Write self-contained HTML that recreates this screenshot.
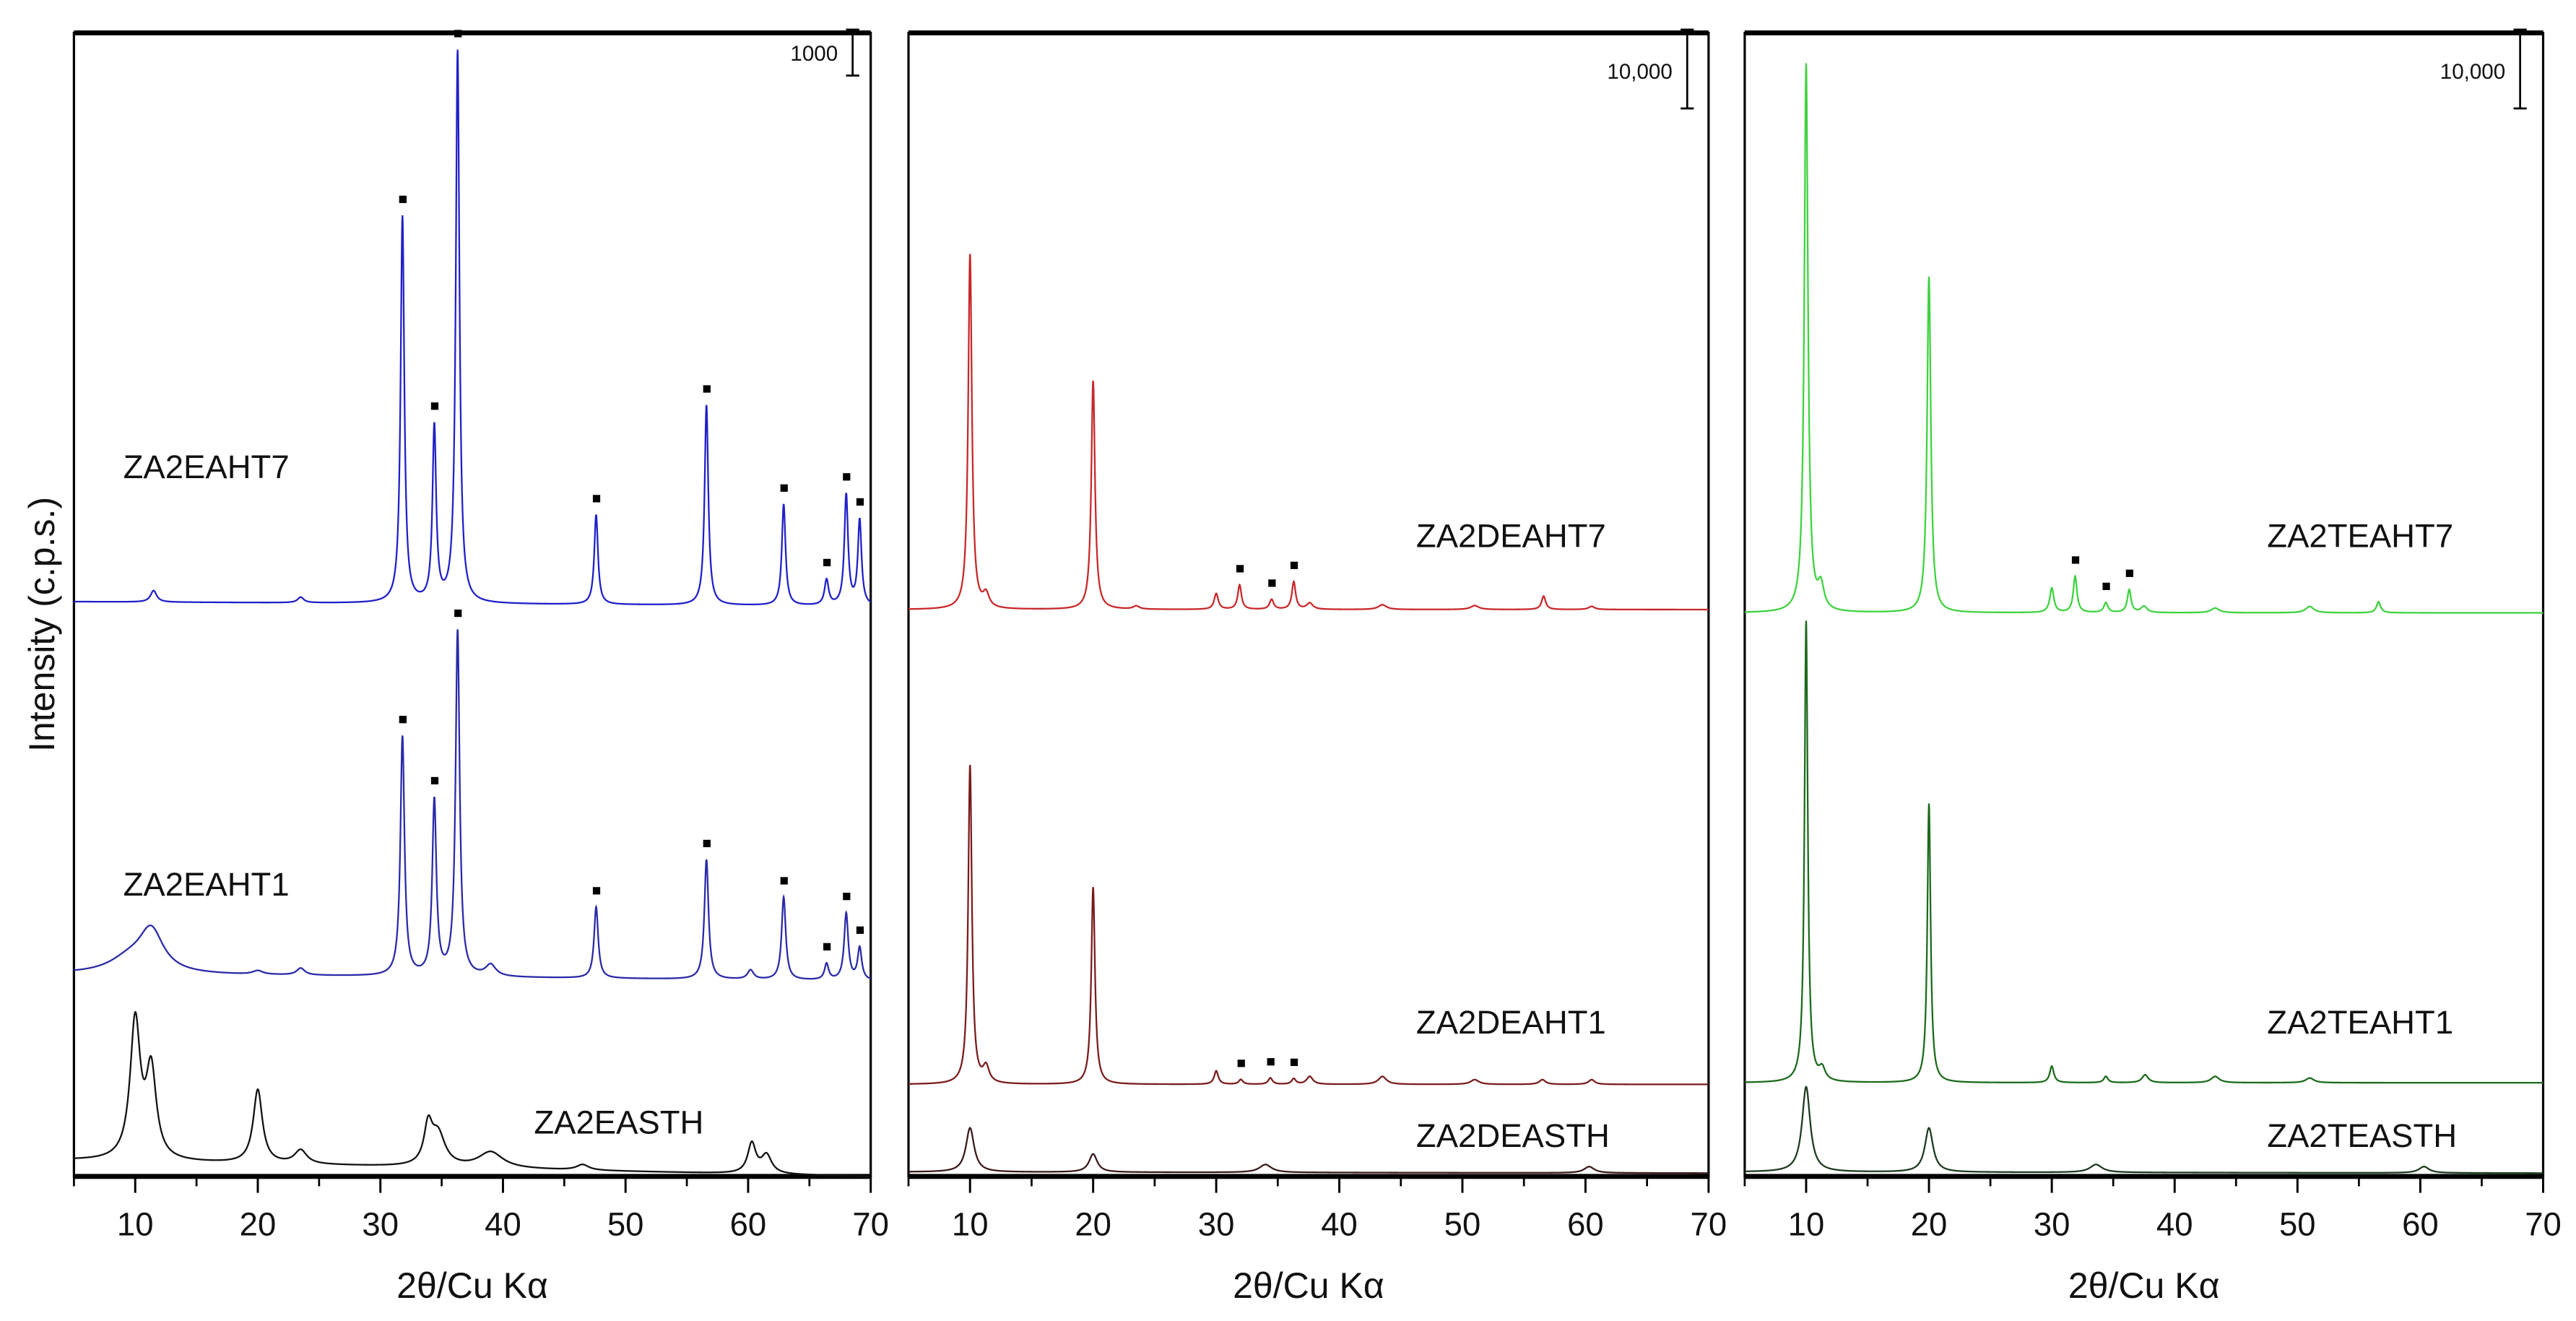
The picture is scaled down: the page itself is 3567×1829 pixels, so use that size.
<!DOCTYPE html>
<html><head><meta charset="utf-8">
<style>
html,body{margin:0;padding:0;background:#fff;}
svg{display:block;}
text{font-family:"Liberation Sans",Arial,sans-serif;fill:#111;}
</style></head>
<body>
<svg id="chart" width="3567" height="1829" viewBox="0 0 1568 804" preserveAspectRatio="none" xmlns="http://www.w3.org/2000/svg">
<text transform="translate(33,380) rotate(-90)" text-anchor="middle" font-size="22">Intensity (c.p.s.)</text>
</svg>
<script>
// ---- data (2θ, counts, half-width) ----
const xTicks = [10,20,30,40,50,60,70];
const xMinorTicks = [5,15,25,35,45,55,65];
const p1Labels = ["ZA2EAHT7","ZA2EAHT1","ZA2EASTH"];
const p2Labels = ["ZA2DEAHT7","ZA2DEAHT1","ZA2DEASTH"];
const p3Labels = ["ZA2TEAHT7","ZA2TEAHT1","ZA2TEASTH"];
const scaleBarText = ["1000","10,000","10,000"];
const scaleBarCounts = [1000,10000,10000];

const easthPeaks = [[10,3000,0.5],[11.3,1900,0.5],[20,1600,0.45],[23.5,300,0.6],[33.9,800,0.4],[34.7,700,0.7],[39,350,1.2],[46.5,120,0.6],[60.3,650,0.4],[61.5,400,0.5]];
const easthBg = [350,0];
const eaht1Peaks = [[11.3,900,1.2],[9.5,300,2],[23.5,150,0.4],[20,80,0.5],[31.8,5200,0.2],[34.4,3800,0.2],[36.3,7500,0.2],[39,250,0.5],[47.6,1550,0.2],[56.6,2600,0.2],[60.2,200,0.3],[62.9,1800,0.2],[66.4,350,0.2],[68,1450,0.2],[69.1,700,0.2]];
const eaht1Bg = [150,0];
const eaht7Peaks = [[11.5,250,0.3],[23.5,120,0.3],[31.8,8400,0.18],[34.4,3800,0.18],[36.3,12000,0.18],[47.6,1950,0.18],[56.6,4350,0.18],[62.9,2200,0.18],[66.4,550,0.2],[68,2400,0.18],[69.1,1850,0.18]];
const eaht7Bg = [100,0];
const eaht1Marks = [31.8,34.4,36.3,47.6,56.6,62.9,66.4,68,69.1];
const eaht7Marks = [31.8,34.4,36.3,47.6,56.6,62.9,66.4,68,69.1];

const deasthPeaks = [[10,5600,0.4],[20,2300,0.4],[34,1000,0.6],[60.3,800,0.5]];
const deaht1Peaks = [[10,40400,0.18],[11.3,2000,0.3],[20,25000,0.18],[30,1700,0.2],[32,600,0.2],[34.4,800,0.2],[36.3,700,0.2],[37.6,1000,0.3],[43.5,1000,0.4],[51,600,0.4],[56.5,600,0.3],[60.5,600,0.3]];
const deaht7Peaks = [[10,45000,0.18],[11.3,1700,0.3],[20,29000,0.18],[23.5,400,0.3],[30,2000,0.2],[31.9,3100,0.18],[34.5,1250,0.2],[36.3,3500,0.18],[37.6,800,0.3],[43.5,600,0.4],[51,500,0.4],[56.6,1700,0.2],[60.5,400,0.3]];
const deaht1Marks = [32,34.4,36.3];
const deaht7Marks = [31.9,34.5,36.3];

const teasthPeaks = [[10,10800,0.4],[20,5600,0.4],[33.6,1000,0.6],[60.3,800,0.5]];
const teaht1Peaks = [[10,58500,0.16],[11.3,1500,0.3],[20,35400,0.16],[30,2100,0.2],[34.4,800,0.2],[37.6,1000,0.3],[43.3,800,0.4],[51,600,0.4]];
const teaht7Peaks = [[10,69500,0.18],[11.2,3000,0.3],[20,42600,0.18],[30,3100,0.2],[31.9,4600,0.18],[34.4,1250,0.2],[36.3,2900,0.18],[37.5,800,0.3],[43.3,600,0.4],[51,800,0.4],[56.6,1400,0.2]];
const teaht7Marks = [31.9,34.4,36.3];

// ---- layout ----
const NS = "http://www.w3.org/2000/svg";
const svg = document.getElementById('chart');
const topY = 20, bottomY = 716;
const panels = [
  {x0:45,x1:530,k:1000/28,bar:{x:519,y0:18,tx:510,ty:37}},
  {x0:553,x1:1040,k:10000/48,bar:{x:1027,y0:18,tx:1018,ty:48}},
  {x0:1062,x1:1548,k:10000/48,bar:{x:1534,y0:18,tx:1525,ty:48}}
];
function mk(tag, attrs, parent){
  const e=document.createElementNS(NS,tag);
  for(const a in attrs) e.setAttribute(a,attrs[a]);
  (parent||svg).appendChild(e); return e;
}
function xs(p,v){return p.x0+(v-5)/(70-5)*(p.x1-p.x0);}
function intensity(peaks,bg,x){
  let s=bg?bg[0]+(bg[1]-bg[0])*(x-5)/65:0;
  for(const [c,h,w] of peaks){const d=(x-c)/w; s+=h/(1+d*d);}
  return s;
}
function ys(p,base,c){return base-c/p.k;}

panels.forEach((p,i)=>{
  const r=mk('rect',{x:p.x0,y:topY,width:p.x1-p.x0,height:bottomY-topY,fill:'none',stroke:'#000','stroke-width':1.4});
  
  
  const tl=mk('line',{x1:p.x0,x2:p.x1,y1:topY,y2:topY,stroke:'#000','stroke-width':3});
  
  
  const ax=mk('line',{x1:p.x0,x2:p.x1,y1:bottomY,y2:bottomY,stroke:'#000','stroke-width':3});
  
  
  xTicks.forEach(t=>{
    const X=xs(p,t);
    const l=mk('line',{x1:X,x2:X,y1:bottomY,y2:bottomY+10,stroke:'#000','stroke-width':1.3});
    
    
    const tx=mk('text',{x:X,y:752,'text-anchor':'middle','font-size':20});
    
    
    tx.textContent=t;
  });
  xMinorTicks.forEach(t=>{
    const X=xs(p,t);
    const l=mk('line',{x1:X,x2:X,y1:bottomY,y2:bottomY+6,stroke:'#000','stroke-width':1.2});
    
    
  });
  const xt=mk('text',{x:(p.x0+p.x1)/2,y:790,'text-anchor':'middle','font-size':22});
  
  
  xt.textContent='2θ/Cu Kα';
  const b=p.bar, len=scaleBarCounts[i]/p.k;
  const g=mk('g',{stroke:'#000','stroke-width':1.2});
  
  
  mk('line',{x1:b.x,x2:b.x,y1:b.y0,y2:b.y0+len},g);
  mk('line',{x1:b.x-4,x2:b.x+4,y1:b.y0,y2:b.y0},g);
  mk('line',{x1:b.x-4,x2:b.x+4,y1:b.y0+len,y2:b.y0+len},g);
  const st=mk('text',{x:b.tx,y:b.ty,'text-anchor':'end','font-size':13});
  
  
  st.textContent=scaleBarText[i];
});

const traces=[
  {p:0,peaks:easthPeaks,bg:easthBg,base:716,color:'#111',name:'trace-za2easth'},
  {p:0,peaks:eaht1Peaks,bg:eaht1Bg,base:597,color:'#2a2aa8',name:'trace-za2eaht1',marks:eaht1Marks},
  {p:0,peaks:eaht7Peaks,bg:eaht7Bg,base:369,color:'#2020c8',name:'trace-za2eaht7',marks:eaht7Marks},
  {p:1,peaks:deasthPeaks,bg:[150,0],base:714,color:'#3a1a1a',name:'trace-za2deasth'},
  {p:1,peaks:deaht1Peaks,bg:null,base:660,color:'#7a1c1c',name:'trace-za2deaht1',marks:deaht1Marks},
  {p:1,peaks:deaht7Peaks,bg:null,base:371,color:'#c8282a',name:'trace-za2deaht7',marks:deaht7Marks},
  {p:2,peaks:teasthPeaks,bg:[150,0],base:714,color:'#1e3a1e',name:'trace-za2teasth'},
  {p:2,peaks:teaht1Peaks,bg:null,base:659,color:'#1c6a1c',name:'trace-za2teaht1'},
  {p:2,peaks:teaht7Peaks,bg:null,base:373,color:'#3ed23e',name:'trace-za2teaht7',marks:teaht7Marks}
];
traces.forEach(t=>{
  const p=panels[t.p]; let d='';
  for(let x=5;x<=70.0001;x+=0.02){
    const X=xs(p,x), Y=ys(p,t.base,intensity(t.peaks,t.bg,x));
    d+=(d?'L':'M')+X.toFixed(2)+','+Y.toFixed(2);
  }
  const path=mk('path',{d:d,fill:'none',stroke:t.color,'stroke-width':1});
  
  
  (t.marks||[]).forEach(m=>{
    const Y=ys(p,t.base,intensity(t.peaks,t.bg,m))-8;
    const r=mk('rect',{x:xs(p,m)-2,y:Y-4,width:4.5,height:4.5,fill:'#000'});
    
    
  });
});

const labelPos=[[p1Labels,[[75,291],[75,545],[325,690]]],[p2Labels,[[862,333],[862,629],[862,698]]],[p3Labels,[[1380,333],[1380,629],[1380,698]]]];
labelPos.forEach(([labs,pos])=>{
  labs.forEach((s,j)=>{
    const tx=mk('text',{x:pos[j][0],y:pos[j][1],'font-size':20});
    
    
    tx.textContent=s;
  });
});
</script>
</body></html>
